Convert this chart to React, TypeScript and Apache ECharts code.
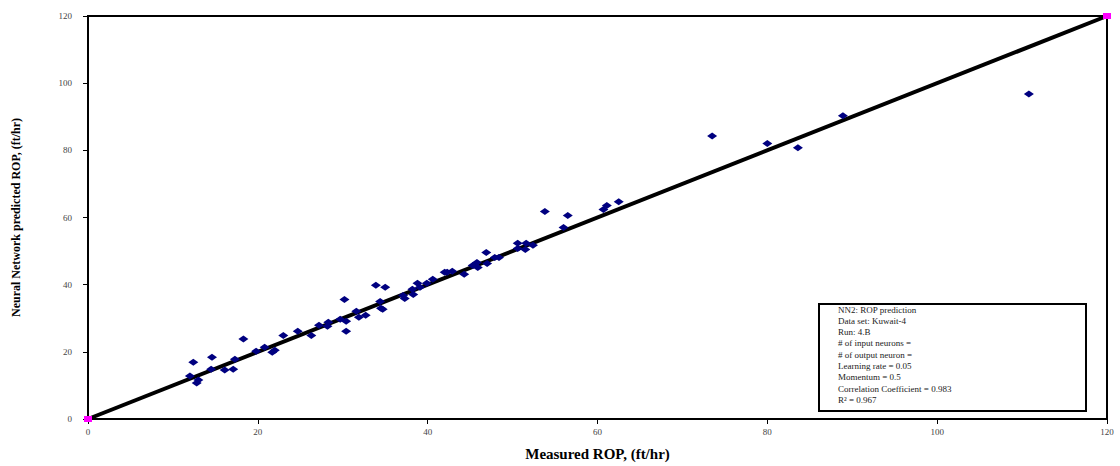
import React, { useEffect, useRef } from "react";
import * as echarts from "echarts";

const measured = [
  12.4, 14.6, 18.3, 12.0, 13.0, 12.8, 14.5, 16.1, 17.1, 17.3, 19.8, 20.8, 21.7, 22.0,
  23.0, 24.7, 26.3, 27.2, 28.3, 28.2, 29.7, 30.2, 30.4, 30.4, 31.6, 31.9, 32.7, 33.9,
  35.0, 34.4, 34.7, 34.5, 37.3, 37.1, 38.3, 38.2, 38.8, 39.1, 39.9, 40.6, 42.0, 42.9,
  44.3, 42.3, 45.3, 45.9, 45.8, 46.9, 47.0, 47.9, 48.4, 50.6, 50.6, 51.5, 51.6, 52.4,
  53.8, 56.0, 56.5, 60.7, 61.1, 62.5, 73.5, 80.0, 83.6, 88.9, 110.8,
];
const predicted = [
  16.9, 18.4, 23.8, 12.8, 11.6, 10.7, 14.8, 14.6, 14.8, 17.8, 20.2, 21.4, 19.9, 20.5,
  24.9, 26.1, 24.9, 27.9, 28.8, 27.6, 29.7, 35.6, 26.1, 29.1, 32.1, 30.3, 30.9, 39.8,
  39.2, 35.0, 32.7, 33.0, 35.9, 36.8, 37.1, 38.6, 40.4, 39.2, 40.4, 41.6, 43.7, 44.0,
  43.1, 43.7, 45.7, 45.1, 46.6, 49.6, 46.3, 48.1, 48.1, 52.3, 50.8, 50.5, 52.3, 51.7,
  61.8, 57.0, 60.6, 62.4, 63.6, 64.7, 84.3, 82.0, 80.8, 90.3, 96.8,
];
const idealLine = [
  [0, 0],
  [120, 120],
];
const legendLines = [
  "NN2: ROP prediction",
  "Data set: Kuwait-4",
  "Run: 4.B",
  "# of input neurons =",
  "# of output neuron =",
  "Learning rate = 0.05",
  "Momentum = 0.5",
  "Correlation Coefficient = 0.983",
  "R² = 0.967",
];
const xTitle = "Measured ROP, (ft/hr)";
const yTitle = "Neural Network predicted ROP, (ft/hr)";

export default function App() {
  const ref = useRef<HTMLDivElement>(null);
  useEffect(() => {
    document.body.style.margin = "0";
    const chart = echarts.init(ref.current!, null, { renderer: "svg" });
    const serif = "'Liberation Serif', 'Times New Roman', serif";
    const points = measured.map((m, i) => [m, predicted[i]]);
    chart.setOption({
      animation: false,
      backgroundColor: "#ffffff",
      grid: {
        left: 88,
        right: 13,
        top: 16,
        bottom: 46,
        show: true,
        borderColor: "#000",
        borderWidth: 2,
      },
      xAxis: {
        type: "value",
        min: 0,
        max: 120,
        interval: 20,
        name: xTitle,
        nameLocation: "middle",
        nameGap: 27,
        nameTextStyle: { fontFamily: serif, fontWeight: "bold", fontSize: 15, color: "#000" },
        axisLine: { onZero: false, lineStyle: { color: "#000", width: 2 } },
        axisTick: { show: true, length: 5, lineStyle: { color: "#000", width: 1 } },
        axisLabel: { fontFamily: serif, fontSize: 9, color: "#444", margin: 8 },
        splitLine: { show: false },
      },
      yAxis: {
        type: "value",
        min: 0,
        max: 120,
        interval: 20,
        name: yTitle,
        nameLocation: "middle",
        nameGap: 66,
        nameTextStyle: { fontFamily: serif, fontWeight: "bold", fontSize: 12, color: "#000" },
        axisLine: { onZero: false, lineStyle: { color: "#000", width: 2 } },
        axisTick: { show: true, length: 5, lineStyle: { color: "#000", width: 1 } },
        axisLabel: { fontFamily: serif, fontSize: 9, color: "#444", margin: 16 },
        splitLine: { show: false },
      },
      series: [
        {
          type: "line",
          data: idealLine,
          lineStyle: { color: "#000", width: 4 },
          symbol: "rect",
          symbolSize: [8, 6],
          itemStyle: { color: "#ff00ff" },
          showSymbol: true,
          z: 2,
        },
        {
          type: "scatter",
          data: points,
          symbol: "diamond",
          symbolSize: [10, 7],
          itemStyle: { color: "#000080", opacity: 1 },
          z: 3,
        },
      ],
      graphic: [
        {
          type: "rect",
          left: 818,
          top: 303,
          shape: { width: 267, height: 107 },
          style: { fill: "#fff", stroke: "#000", lineWidth: 2 },
          z: 10,
        },
        ...legendLines.map((t, i) => ({
          type: "text",
          left: 838,
          top: 305 + i * 11.3,
          style: { text: t, font: `9px ${serif}`, fill: "#222" },
          z: 11,
        })),
      ],
    });
    return () => chart.dispose();
  }, []);
  return <div ref={ref} style={{ width: 1120, height: 466 }} />;
}
